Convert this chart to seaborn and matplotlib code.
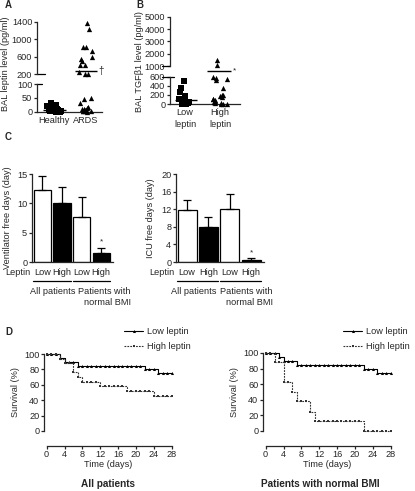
import matplotlib
matplotlib.use("Agg")
import matplotlib.pyplot as plt
import numpy as np
import pandas as pd
import seaborn as sns

# A: BAL leptin (pg/ml)
healthy_leptin = [30, 25, 22, 20, 18, 15, 12, 10, 10, 8, 6, 5, 5, 4, 3, 2, 2, 1, 0, 0]
ards_leptin = [1362, 1233, 830, 815, 739, 587, 549, 511, 413, 405, 261, 210, 200,
               50, 45, 32, 18, 12, 10, 8, 6, 5, 4, 3, 2, 1, 0]
leptin_means = [5, 284]

# B: BAL TGF-beta1 (pg/ml)
low_tgf = [513, 347, 260, 181, 108, 80, 60, 50, 40, 30, 25, 20, 15, 10, 5, 0, 0]
high_tgf = [5200, 1450, 1100, 600, 564, 542, 528, 347, 202, 202, 181, 150, 120,
            100, 80, 60, 50, 40, 30, 20, 10, 5, 0]
tgf_means = [94, 720]

# C: free days, mean + SEM
bar_groups = ["all_low", "all_high", "bmi_low", "bmi_high"]
bar_labels = ["Low", "High", "Low", "High"]
vent_free = [12.2, 10.1, 7.7, 1.5]
vent_sem = [2.5, 2.6, 3.4, 0.9]
icu_free = [11.8, 7.9, 12.0, 0.5]
icu_sem = [2.4, 2.3, 3.4, 0.5]

# D: survival (%) by day
days = list(range(29))
surv_all_low = [100, 100, 100, 95, 90, 90, 90, 85, 85, 85, 85, 85, 85, 85, 85, 85,
                85, 85, 85, 85, 85, 85, 80, 80, 80, 75, 75, 75, 75]
surv_all_high = [100, 100, 100, 94, 88, 88, 76, 70, 64, 64, 64, 64, 58, 58, 58, 58,
                 58, 58, 52, 52, 52, 52, 52, 52, 46, 46, 46, 46, 46]
surv_bmi_low = [100, 100, 100, 95, 90, 90, 90, 85, 85, 85, 85, 85, 85, 85, 85, 85,
                85, 85, 85, 85, 85, 85, 80, 80, 80, 75, 75, 75, 75]
surv_bmi_high = [100, 100, 88, 88, 63, 63, 50, 38, 38, 38, 25, 13, 13, 13, 13, 13,
                 13, 13, 13, 13, 13, 13, 0, 0, 0, 0, 0, 0, 0]

FS = 6.6
sns.set_style("ticks")
plt.rcParams["font.family"] = ["Liberation Sans", "DejaVu Sans"]
plt.rcParams["font.size"] = FS
plt.rcParams["axes.linewidth"] = 0.9
for a in ("x", "y"):
    plt.rcParams[f"{a}tick.major.size"] = 2.2
    plt.rcParams[f"{a}tick.major.width"] = 0.9
    plt.rcParams[f"{a}tick.major.pad"] = 1.2
    plt.rcParams[f"{a}tick.labelsize"] = FS

W, H = 415, 491
fig = plt.figure(figsize=(W / 100, H / 100), dpi=100)


def box(x0, y0, x1, y1):
    return [x0 / W, 1 - y1 / H, (x1 - x0) / W, (y1 - y0) / H]


def ftext(x, y, s, **kw):
    fig.text(x / W, 1 - y / H, s, **kw)


def clean(ax, bottom=True):
    sns.despine(ax=ax, bottom=not bottom)
    ax.set_xlabel("")
    ax.set_ylabel("")


def strip_panel(ax_top, ax_bot, groups, values, markers, lims_top, lims_bot, xlim):
    for ax, (lo, hi) in ((ax_top, lims_top), (ax_bot, lims_bot)):
        for g, vals, m in zip(groups, values, markers):
            sub = pd.DataFrame({"grp": g, "val": [v for v in vals if lo <= v <= hi]})
            if len(sub):
                sns.stripplot(data=sub, x="grp", y="val", order=groups, marker=m,
                              color="black", size=3.8, jitter=0.22, linewidth=0,
                              clip_on=False, ax=ax)
        ax.set_ylim(lo, hi)
        ax.set_xlim(*xlim)
    clean(ax_top, bottom=False)
    ax_top.tick_params(axis="x", bottom=False, labelbottom=False)
    clean(ax_bot)
    ax_bot.tick_params(axis="x", length=0, pad=3)
    for lab in ax_bot.get_xticklabels():
        lab.set_linespacing(1.35)


np.random.seed(3)

# ---- A
axA1 = fig.add_axes(box(37, 21.7, 102, 74.3))
axA2 = fig.add_axes(box(37, 84, 102, 111.7))
strip_panel(axA1, axA2, ["Healthy", "ARDS"], [healthy_leptin, ards_leptin], ["s", "^"],
            (200, 1400), (0, 100), (-0.53, 1.5))
axA1.set_yticks([200, 600, 1000, 1400])
axA2.set_yticks([0, 50, 100])
axA1.plot([0, 0.12], [0, 0], transform=axA1.transAxes, color="black", lw=0.9, clip_on=False)
axA2.plot([0, 0.08], [1, 1], transform=axA2.transAxes, color="black", lw=0.9, clip_on=False)
axA2.hlines(leptin_means[0], -0.35, 0.38, color="black", lw=1)
axA1.hlines(leptin_means[1], 0.65, 1.35, color="black", lw=1, clip_on=False)
axA1.text(1.4, leptin_means[1], "†", va="center", ha="left", fontsize=7)
ftext(5.5, 64, "BAL leptin level (pg/ml)", rotation=90, ha="center", va="center")

# ---- B
axB1 = fig.add_axes(box(170, 16.7, 240, 66))
axB2 = fig.add_axes(box(170, 76.7, 240, 104))
strip_panel(axB1, axB2, ["Low\nleptin", "High\nleptin"], [low_tgf, high_tgf], ["s", "^"],
            (1000, 5000), (0, 600), (-0.43, 1.57))
axB1.set_yticks([1000, 2000, 3000, 4000, 5000])
axB2.set_yticks([0, 200, 400, 600])
axB1.plot([-0.12, 0], [0, 0], transform=axB1.transAxes, color="black", lw=0.9, clip_on=False)
axB2.plot([-0.12, 0.06], [1, 1], transform=axB2.transAxes, color="black", lw=0.9, clip_on=False)
axB2.hlines(tgf_means[0], -0.28, 0.33, color="black", lw=1)
axB2.hlines(tgf_means[1], 0.63, 1.3, color="black", lw=1, clip_on=False)
axB2.text(1.38, tgf_means[1], "*", va="center", ha="left", fontsize=6)
ftext(139.5, 62, "BAL TGFβ1 level (pg/ml)", rotation=90, ha="center", va="center")


# ---- C
def bar_panel(rect, means, sems, ylim, yticks, ylabel, star_y, lab_x):
    ax = fig.add_axes(box(*rect))
    df = pd.DataFrame({"grp": bar_groups, "val": means})
    sns.barplot(data=df, x="grp", y="val", hue="grp", order=bar_groups,
                palette=["white", "black", "white", "black"], edgecolor="black",
                linewidth=0.9, width=0.88, legend=False, ax=ax)
    xs = np.arange(len(bar_groups))
    ax.errorbar(xs, means, yerr=[np.zeros(len(sems)), sems], fmt="none",
                ecolor="black", elinewidth=0.9, capsize=3.2, capthick=0.9)
    ax.text(xs[-1], star_y, "*", ha="center", va="center", fontsize=6)
    ax.set_ylim(*ylim)
    ax.set_yticks(yticks)
    ax.set_xlim(-0.52, 3.6)
    ax.set_xticks(xs)
    ax.set_xticklabels(bar_labels)
    ax.tick_params(axis="x", length=0, pad=4)
    clean(ax)
    ax.set_ylabel(ylabel)
    ax.yaxis.set_label_coords(lab_x, 0.5)
    tr = ax.get_xaxis_transform()
    ax.text(-0.6, -0.115, "Leptin", transform=tr, ha="right", va="center")
    for x0, x1 in ((-0.45, 1.45), (1.55, 3.45)):
        ax.plot([x0, x1], [-0.215, -0.215], transform=tr, color="black", lw=0.9,
                clip_on=False)
    return ax


bar_panel((32, 174, 113, 262), vent_free, vent_sem, (0, 15), [0, 5, 10, 15],
          "Ventilator free days (day)", 3.5, -0.25)
bar_panel((176, 174, 264, 262), icu_free, icu_sem, (0, 20), [0, 4, 8, 12, 16, 20],
          "ICU free days (day)", 2.0, -0.24)
for gx, px in ((53, 78), (194, 220)):
    ftext(gx, 292, "All patients", ha="center", va="center")
    ftext(px, 287.5, "Patients with\nnormal BMI", ha="left", va="top",
          multialignment="right", linespacing=1.15)


# ---- D
def surv_panel(rect, low, high, title, title_x, legend_x):
    ax = fig.add_axes(box(*rect))
    sns.lineplot(x=days, y=low, drawstyle="steps-post", color="black", lw=0.8,
                 marker="^", markersize=2.2, markeredgewidth=0, label="Low leptin",
                 clip_on=False, ax=ax)
    sns.lineplot(x=days, y=high, drawstyle="steps-post", color="#333333", lw=0.8,
                 linestyle=(0, (1.6, 1.0)), marker="s", markersize=2.0,
                 markeredgewidth=0, label="High leptin", clip_on=False, ax=ax)
    ax.set_ylim(0, 100)
    ax.set_xlim(-0.6, 28.1)
    ax.set_yticks([0, 20, 40, 60, 80, 100])
    ax.set_xticks(range(0, 29, 4))
    sns.despine(ax=ax)
    ax.spines["bottom"].set_position(("outward", 10.5))
    ax.spines["bottom"].set_bounds(0, 28)
    ax.set_xlabel("Time (days)", labelpad=0.3)
    ax.set_ylabel("Survival (%)")
    ax.yaxis.set_label_coords(-0.19, 0.5)
    ax.legend(loc="upper left", bbox_to_anchor=(legend_x / W, 1 - 327 / H),
              bbox_transform=fig.transFigure, frameon=False, handlelength=2.1,
              handletextpad=0.4, labelspacing=0.7, borderaxespad=0, borderpad=0,
              numpoints=1, fontsize=FS)
    ftext(title_x, 484, title, ha="center", va="center", fontweight="bold",
          fontsize=7.2)
    return ax


surv_panel((44, 354, 172, 431), surv_all_low, surv_all_high, "All patients", 108, 124)
surv_panel((263, 353, 391, 431), surv_bmi_low, surv_bmi_high,
           "Patients with normal BMI", 320, 343)

for letter, x, y in (("A", 5, 5), ("B", 136, 5), ("C", 5, 137), ("D", 5, 332)):
    ftext(x, y, letter, fontweight="bold", fontsize=7, ha="left", va="center")

fig.savefig("out.png", dpi=100)
